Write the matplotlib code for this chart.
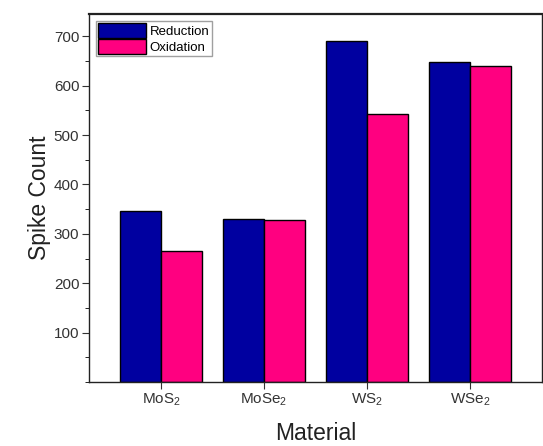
import numpy as np, matplotlib; matplotlib.use("Agg")
import matplotlib.pyplot as plt
from matplotlib.ticker import MultipleLocator

materials = ["MoS$_2$", "MoSe$_2$", "WS$_2$", "WSe$_2$"]
reduction = [346, 330, 690, 648]
oxidation = [266, 327, 543, 639]

plt.rcParams["font.family"] = ["Liberation Sans", "DejaVu Sans"]
plt.rcParams["mathtext.fontset"] = "custom"
plt.rcParams["mathtext.rm"] = "Liberation Sans"

fig = plt.figure(figsize=(5.43, 4.46), dpi=100)
ax = fig.add_axes([0.164, 0.1435, 0.834, 0.825])
x = np.arange(len(materials)); w = 0.4
ax.bar(x - w/2, reduction, w, color="#0000A0", edgecolor="black", lw=1, label="Reduction")
ax.bar(x + w/2, oxidation, w, color="#FF0080", edgecolor="black", lw=1, label="Oxidation")
ax.set_xlim(-0.7, 3.7); ax.set_ylim(0, 745)
ax.set_xticks(x); ax.set_xticklabels(materials)
ax.yaxis.set_major_locator(MultipleLocator(100)); ax.yaxis.set_minor_locator(MultipleLocator(50))
ax.set_yticks(range(100, 701, 100))
ax.tick_params(axis="both", direction="out", labelsize=11, length=5, pad=2, colors="#333333", labelcolor="#333333")
ax.tick_params(axis="y", which="minor", length=3, direction="out")
ax.tick_params(axis="x", which="minor", bottom=False)
for s in ax.spines.values(): s.set_linewidth(1); s.set_color("#222222")
ax.spines["top"].set_linewidth(1.6)
ax.set_xlabel("Material", fontsize=16.5, color="#222222", labelpad=10)
ax.set_ylabel("Spike Count", fontsize=16.5, color="#222222", labelpad=2)
leg = ax.legend(loc="upper left", fontsize=9.5, frameon=True, fancybox=False, edgecolor="#888888",
                handlelength=3.6, handleheight=1.3, handletextpad=0.3, borderpad=0.2, labelspacing=0.1,
                borderaxespad=0.5)
plt.savefig("out.png", dpi=100)
